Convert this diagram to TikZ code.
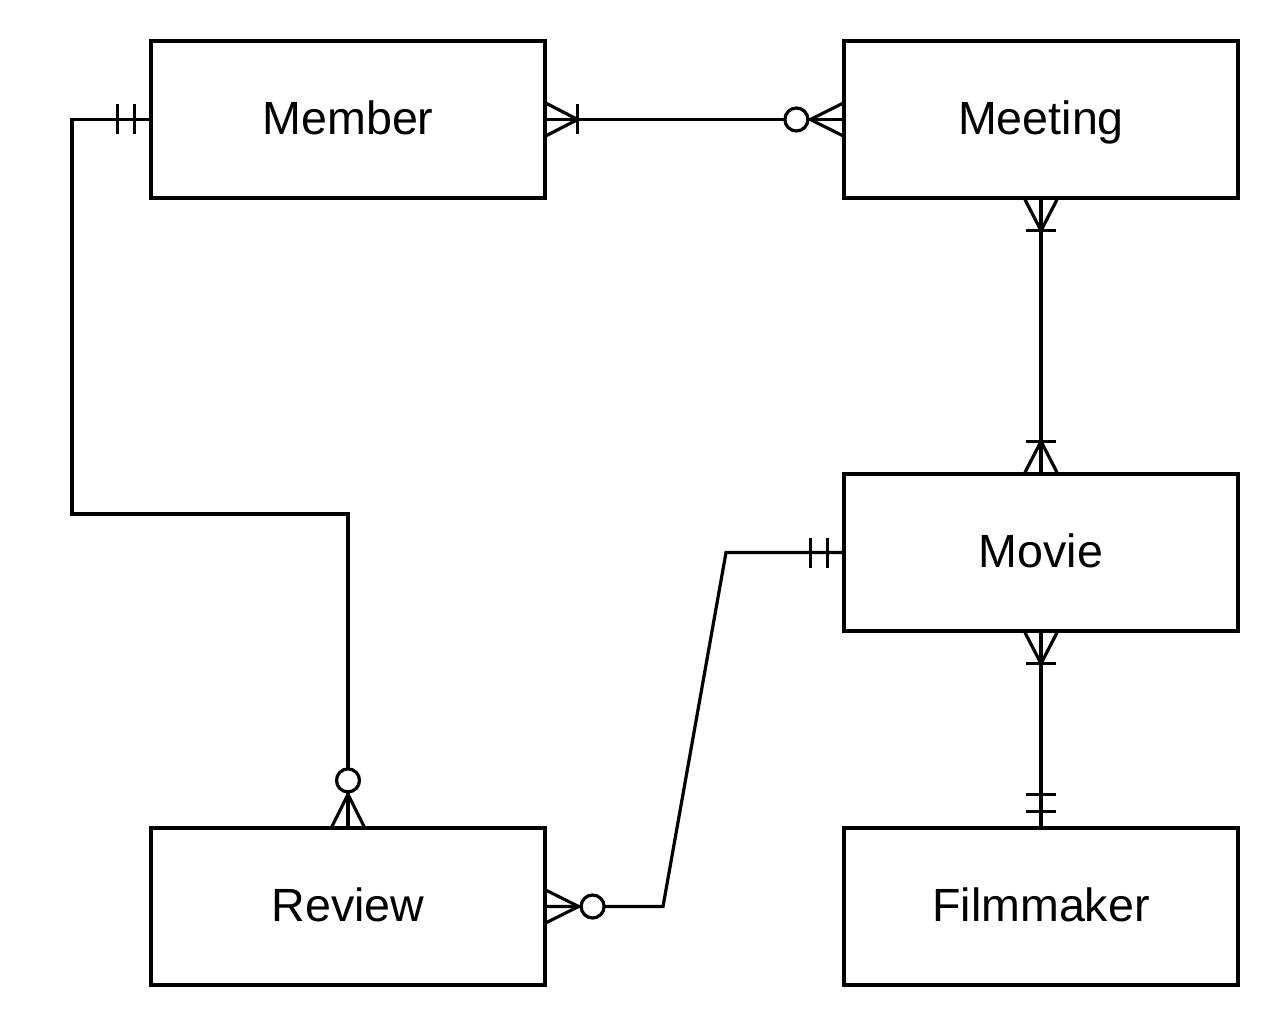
\documentclass[tikz,border=0pt]{standalone}
\usepackage{fontspec}
\setmainfont{Liberation Sans}
\usetikzlibrary{positioning,calc}
\tikzset{
  entity/.style={rectangle, draw, line width=1.6pt, minimum width=197pt, minimum height=78.5pt, inner sep=0pt, text height=16.7pt, text depth=2pt, font=\fontsize{23.3}{28}\selectfont},
  link/.style={draw, line width=1.6pt},
  % cardinality marks, drawn from the entity border outwards along +x
  mandone/.pic={
    \draw[line width=1.6pt] (15,-15) -- (15,15);
    \draw[line width=1.6pt] (32,-15) -- (32,15);
  },
  onemany/.pic={
    \draw[line width=1.6pt] (0,-16) -- (31,0) -- (0,16);
    \draw[line width=1.6pt] (31,-15) -- (31,15);
  },
  zeromany/.pic={
    \draw[line width=1.6pt] (0,-16) -- (32,0) -- (0,16);
    \draw[line width=1.6pt, fill=white] (46,0) circle (11.5);
  }
}
\begin{document}
\begin{tikzpicture}[x=0.5pt, y=-0.5pt]
    \useasboundingbox (0,0) rectangle (1280,1027);
    \node[entity] (member) at (348,119.5) {Member};
    \node[entity] (meeting) at (1041,119.5) {Meeting};
    \node[entity] (movie) at (1041,552.5) {Movie};
    \node[entity] (review) at (348,906.5) {Review};
    \node[entity] (filmmaker) at (1041,906.5) {Filmmaker};

    \coordinate (bendA) at (72,514);
    \coordinate (bendB) at (726,552.5);
    \coordinate (bendC) at (663,906.5);

    \draw[link] (member.west) -| (bendA) -| (review.north);
    \draw[link] (member.east) -- (meeting.west);
    \draw[link] (meeting.south) -- (movie.north);
    \draw[link] (movie.west) -- (bendB) -- (bendC) -- (review.east);
    \draw[link] (movie.south) -- (filmmaker.north);

    \pic[rotate=180] at (member.west) {mandone};
    \pic at (member.east) {onemany};
    \pic[rotate=180] at (meeting.west) {zeromany};
    \pic[rotate=-90] at (meeting.south) {onemany};
    \pic[rotate=90] at (movie.north) {onemany};
    \pic[rotate=180] at (movie.west) {mandone};
    \pic[rotate=-90] at (movie.south) {onemany};
    \pic[rotate=90] at (filmmaker.north) {mandone};
    \pic[rotate=90] at (review.north) {zeromany};
    \pic at (review.east) {zeromany};
\end{tikzpicture}
\end{document}
